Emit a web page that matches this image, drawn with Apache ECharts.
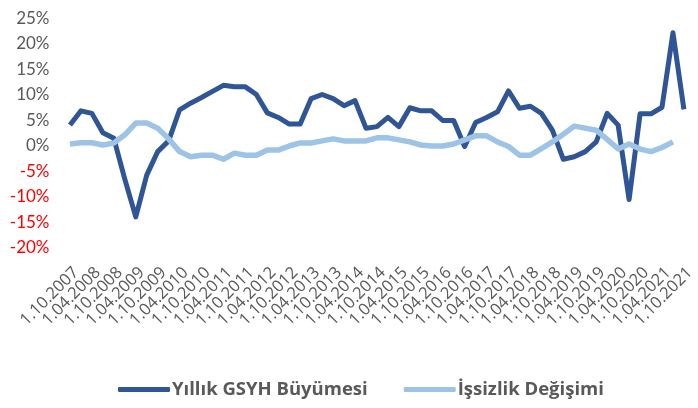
<!DOCTYPE html>
<html>
<head>
<meta charset="utf-8">
<script src="https://cdn.jsdelivr.net/npm/echarts@6/dist/echarts.min.js"></script>
<style>
html,body{margin:0;padding:0;background:#fff;}
#c{width:698px;height:408px;}
</style>
</head>
<body>
<div id="c"></div>
<script>
var categories = [
"1.10.2007","1.01.2008","1.04.2008","1.07.2008","1.10.2008","1.01.2009","1.04.2009","1.07.2009","1.10.2009",
"1.01.2010","1.04.2010","1.07.2010","1.10.2010","1.01.2011","1.04.2011","1.07.2011","1.10.2011",
"1.01.2012","1.04.2012","1.07.2012","1.10.2012","1.01.2013","1.04.2013","1.07.2013","1.10.2013",
"1.01.2014","1.04.2014","1.07.2014","1.10.2014","1.01.2015","1.04.2015","1.07.2015","1.10.2015",
"1.01.2016","1.04.2016","1.07.2016","1.10.2016","1.01.2017","1.04.2017","1.07.2017","1.10.2017",
"1.01.2018","1.04.2018","1.07.2018","1.10.2018","1.01.2019","1.04.2019","1.07.2019","1.10.2019",
"1.01.2020","1.04.2020","1.07.2020","1.10.2020","1.01.2021","1.04.2021","1.07.2021","1.10.2021"
];
var gdpGrowth = [
4.1, 6.9, 6.4, 2.6, 1.5, -6.5, -13.9, -5.7, -1.1,
1.0, 7.1, 8.4, 9.5, 10.7, 11.9, 11.6, 11.6,
10.1, 6.5, 5.6, 4.3, 4.3, 9.3, 10.1, 9.3,
7.9, 8.9, 3.5, 3.8, 5.6, 3.8, 7.5, 6.9,
6.9, 5.0, 5.0, -0.1, 4.6, 5.6, 6.7, 10.8,
7.4, 7.8, 6.4, 3.1, -2.6, -2.1, -1.1, 0.8,
6.4, 4.1, -10.5, 6.3, 6.3, 7.6, 22.2, 7.2
];
var unemploymentChange = [
0.4, 0.65, 0.65, 0.2, 0.6, 2.2, 4.5, 4.5, 3.5,
1.4, -1.1, -2.1, -1.8, -1.8, -2.6, -1.4, -1.8,
-1.8, -0.8, -0.8, 0.0, 0.6, 0.6, 1.0, 1.4,
1.0, 1.0, 1.0, 1.6, 1.6, 1.2, 0.8, 0.2,
0.0, 0.0, 0.4, 1.2, 2.0, 2.0, 0.8, -0.1,
-1.8, -1.8, -0.5, 0.8, 2.3, 3.9, 3.5, 3.1,
1.3, -0.6, 0.4, -0.6, -1.1, -0.3, 0.8, null
];
var seriesNames = ["Yıllık GSYH Büyümesi", "İşsizlik Değişimi"];
var yMin = -20, yMax = 25, yStep = 5;

var FONT = "'Open Sans', Lato, sans-serif";
var chart = echarts.init(document.getElementById('c'), null, {renderer: 'canvas'});
chart.setOption({
  animation: false,
  backgroundColor: '#ffffff',
  grid: {left: 64.5, right: 1.5, top: 18.5, height: 229.5, containLabel: false},
  xAxis: {
    type: 'category',
    data: categories,
    boundaryGap: true,
    axisLine: {show: false, onZero: false},
    axisTick: {show: false},
    splitLine: {show: false},
    axisLabel: {
      interval: 0,
      rotate: 45,
      margin: 16,
      verticalAlign: 'top',
      hideOverlap: false,
      color: '#595959',
      fontSize: 16.5,
      fontFamily: FONT,
      formatter: function (v, i) { return i % 2 === 0 ? v : ''; }
    }
  },
  yAxis: {
    type: 'value',
    min: yMin, max: yMax, interval: yStep,
    axisLine: {show: false},
    axisTick: {show: false},
    splitLine: {show: false},
    axisLabel: {
      margin: 15,
      fontSize: 17,
      fontFamily: FONT,
      formatter: function (v) {
        return v < 0 ? '{n|' + v + '%}' : '{p|' + v + '%}';
      },
      rich: {
        n: {color: '#FF0000', fontSize: 17, fontFamily: "Lato, sans-serif"},
        p: {color: '#595959', fontSize: 17, fontFamily: "Lato, sans-serif"}
      }
    }
  },
  legend: {
    top: 380,
    left: 118,
    padding: 0,
    icon: 'roundRect',
    itemWidth: 52,
    itemHeight: 5,
    itemGap: 36,
    textStyle: {color: '#595959', fontSize: 18.5, fontWeight: 'bold', fontFamily: FONT, padding: [0, 0, 0, -3]},
    data: seriesNames
  },
  series: [
    {
      name: seriesNames[0],
      type: 'line',
      data: gdpGrowth,
      symbol: 'none',
      lineStyle: {color: '#2F5597', width: 5, join: 'round'},
      itemStyle: {color: '#2F5597'}
    },
    {
      name: seriesNames[1],
      type: 'line',
      data: unemploymentChange,
      symbol: 'none',
      lineStyle: {color: '#9DC3E6', width: 5.5, join: 'round'},
      itemStyle: {color: '#9DC3E6'}
    }
  ]
});
</script>
</body>
</html>
